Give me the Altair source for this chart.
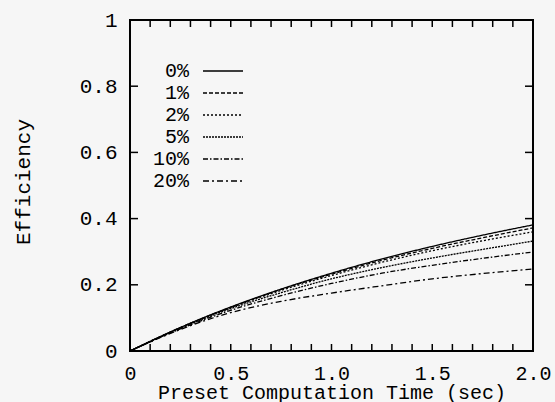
import altair as alt
import pandas as pd

# Preset computation time (sec)
times = [0, 0.25, 0.5, 0.75, 1.0, 1.25, 1.5, 1.75, 2.0]

# Efficiency for each percentage
eff_0 = [0, 0.071, 0.133, 0.187, 0.235, 0.278, 0.316, 0.350, 0.381]
eff_1 = [0, 0.071, 0.132, 0.186, 0.232, 0.274, 0.310, 0.342, 0.372]
eff_2 = [0, 0.070, 0.131, 0.183, 0.228, 0.268, 0.303, 0.333, 0.360]
eff_5 = [0, 0.069, 0.128, 0.176, 0.218, 0.252, 0.281, 0.307, 0.332]
eff_10 = [0, 0.067, 0.123, 0.167, 0.204, 0.235, 0.259, 0.280, 0.299]
eff_20 = [0, 0.065, 0.116, 0.150, 0.175, 0.197, 0.218, 0.234, 0.248]

series = ["0%", "1%", "2%", "5%", "10%", "20%"]
values = [eff_0, eff_1, eff_2, eff_5, eff_10, eff_20]
dashes = [[1, 0], [4, 2], [2, 2], [2, 1], [5, 2, 1.5, 2], [6, 3, 2, 3]]

x_ticks = [0, 0.5, 1.0, 1.5, 2.0]
x_minor = [0.1, 0.2, 0.3, 0.4, 0.5, 0.6, 0.7, 0.8, 0.9, 1.0,
           1.1, 1.2, 1.3, 1.4, 1.5, 1.6, 1.7, 1.8, 1.9]
y_ticks = [0, 0.2, 0.4, 0.6, 0.8, 1.0]
y_minor = [0.2, 0.4, 0.6, 0.8]

FONT = "Liberation Mono"
W, H = 403, 331

rows = []
for name, vals in zip(series, values):
    for t, v in zip(times, vals):
        rows.append({"t": t, "eff": v, "series": name})
df = pd.DataFrame(rows)

xscale = alt.Scale(domain=[0, 2], nice=False, zero=False)
yscale = alt.Scale(domain=[0, 1], nice=False)
dash_scale = alt.Scale(domain=series, range=dashes)

lines = alt.Chart(df).mark_line(color="black", strokeWidth=1.3, interpolate="monotone").encode(
    x=alt.X("t:Q", scale=xscale,
            axis=alt.Axis(values=x_ticks, title="Preset Computation Time (sec)",
                          labelExpr="datum.value == 0 ? '0' : format(datum.value, '.1f')",
                          labelFontSize=20, titleFontSize=20,
                          labelPadding=12, titleY=47, titleBaseline="alphabetic",
                          labelFlush=False)),
    y=alt.Y("eff:Q", scale=yscale,
            axis=alt.Axis(values=y_ticks, title="Efficiency",
                          labelExpr="datum.value == 0 ? '0' : datum.value == 1 ? '1' : format(datum.value, '.1f')",
                          labelPadding=13, titleX=-107, titleY=H / 2 - 4,
                          titleAngle=-90, titleAlign="center", titleBaseline="middle")),
    strokeDash=alt.StrokeDash("series:N", scale=dash_scale, legend=None),
    detail="series:N",
)

xt = pd.DataFrame({"v": x_minor})
yt = pd.DataFrame({"v": y_minor})

tick_bottom = alt.Chart(xt).mark_rule(color="black", strokeWidth=1.5).encode(
    x=alt.X("v:Q", scale=xscale), y=alt.value(H), y2=alt.value(H - 7))
tick_top = alt.Chart(xt).mark_rule(color="black", strokeWidth=1.5).encode(
    x=alt.X("v:Q", scale=xscale), y=alt.value(0), y2=alt.value(7))
tick_left = alt.Chart(yt).mark_rule(color="black", strokeWidth=1.5).encode(
    y=alt.Y("v:Q", scale=yscale, axis=None), x=alt.value(0), x2=alt.value(8))
tick_right = alt.Chart(yt).mark_rule(color="black", strokeWidth=1.5).encode(
    y=alt.Y("v:Q", scale=yscale, axis=None), x=alt.value(W), x2=alt.value(W - 8))

leg_df = pd.DataFrame({"series": series})
leg_y = alt.Y("series:N", sort=series, axis=None,
              scale=alt.Scale(type="point", range=[51, 161], padding=0))

leg_text = alt.Chart(leg_df).mark_text(
    align="right", baseline="middle", font=FONT, fontSize=20, color="black"
).encode(text="series:N", y=leg_y, x=alt.value(59))

leg_line = alt.Chart(leg_df).mark_rule(color="black", strokeWidth=1.3).encode(
    y=leg_y, x=alt.value(73), x2=alt.value(113),
    strokeDash=alt.StrokeDash("series:N", scale=dash_scale, legend=None),
)

chart = alt.layer(
    lines, tick_bottom, tick_top, tick_left, tick_right, leg_text, leg_line
).resolve_scale(y="independent").properties(
    width=W, height=H,
    autosize=alt.AutoSizeParams(type="none"),
    padding={"left": 130, "top": 20, "right": 22, "bottom": 51},
    background="#f6f6f6",
).configure_view(
    stroke="black", strokeWidth=2
).configure_axis(
    labelFont=FONT, titleFont=FONT, labelFontSize=21, titleFontSize=21,
    labelColor="black", titleColor="black", titleFontWeight="normal",
    domain=False, ticks=False, tickSize=0, grid=False,
)

chart.save("out.html", embed_options={"renderer": "svg", "actions": False})
